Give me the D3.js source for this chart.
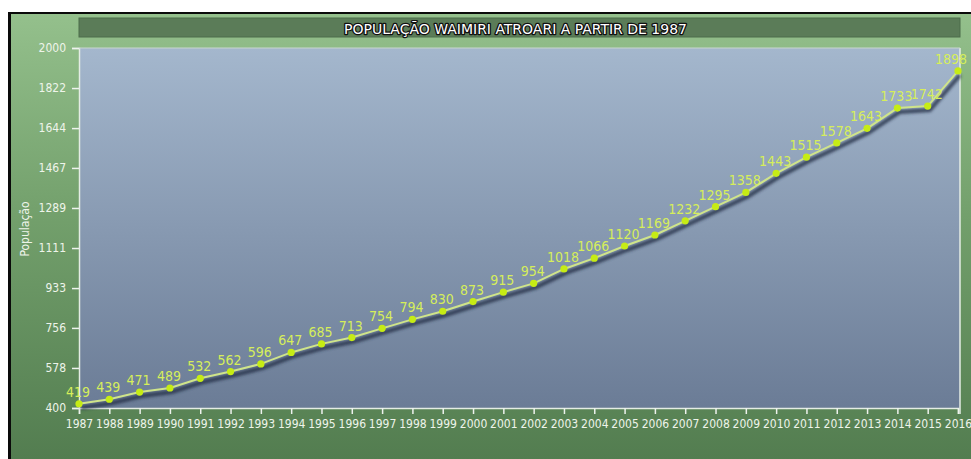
<!DOCTYPE html>
<html>
<head>
<meta charset="utf-8">
<script src="https://cdn.jsdelivr.net/npm/d3@7"></script>
<style>
  html, body { margin: 0; padding: 0; background: #fff; }
  svg { display: block; }
  text { font-family: "DejaVu Sans Condensed", "DejaVu Sans", sans-serif; }
</style>
</head>
<body>
<script>
const years = ["1987","1988","1989","1990","1991","1992","1993","1994","1995","1996",
  "1997","1998","1999","2000","2001","2002","2003","2004","2005","2006",
  "2007","2008","2009","2010","2011","2012","2013","2014","2015","2016"];
const population = [419,439,471,489,532,562,596,647,685,713,754,794,830,873,915,
  954,1018,1066,1120,1169,1232,1295,1358,1443,1515,1578,1643,1733,1742,1898];
const yTicks = [400,578,756,933,1111,1289,1467,1644,1822,2000];
const title = "POPULAÇÃO WAIMIRI ATROARI A PARTIR DE 1987";
const yLabel = "População";

const width = 971, height = 459;
const plot = { left: 79, right: 960, top: 48, bottom: 408 };

const svg = d3.select("body").append("svg")
  .attr("width", width).attr("height", height);

const defs = svg.append("defs");
const bgGrad = defs.append("linearGradient").attr("id", "bg")
  .attr("x1", 0).attr("y1", 0).attr("x2", 0).attr("y2", 1);
bgGrad.append("stop").attr("offset", "0%").attr("stop-color", "#94c08c");
bgGrad.append("stop").attr("offset", "45%").attr("stop-color", "#73a06c");
bgGrad.append("stop").attr("offset", "100%").attr("stop-color", "#537d50");

const plotGrad = defs.append("linearGradient").attr("id", "plotbg")
  .attr("x1", 0).attr("y1", 0).attr("x2", 0).attr("y2", 1);
plotGrad.append("stop").attr("offset", "0%").attr("stop-color", "#a4b7cd");
plotGrad.append("stop").attr("offset", "100%").attr("stop-color", "#6b7c96");

const blur = defs.append("filter").attr("id", "shadow")
  .attr("x", "-5%").attr("y", "-20%").attr("width", "110%").attr("height", "140%");
blur.append("feGaussianBlur").attr("stdDeviation", 1.6);

// frame
svg.append("rect").attr("x", 8).attr("y", 12).attr("width", width - 8).attr("height", height - 12)
  .attr("fill", "#0a0a0a");
svg.append("rect").attr("x", 11).attr("y", 14).attr("width", width - 11).attr("height", height - 14)
  .attr("fill", "url(#bg)");

// title bar
svg.append("rect").attr("x", plot.left).attr("y", 18)
  .attr("width", plot.right - plot.left).attr("height", 19)
  .attr("fill", "#5b7c58").attr("stroke", "#4d6d4b").attr("stroke-width", 1);
svg.append("text")
  .attr("x", (plot.left + plot.right) / 2 - 4).attr("y", 34)
  .attr("text-anchor", "middle")
  .attr("font-size", 14)
  .attr("textLength", 343).attr("lengthAdjust", "spacingAndGlyphs")
  .attr("fill", "#ffffff").attr("stroke", "#111").attr("stroke-width", 2.4)
  .attr("paint-order", "stroke").attr("stroke-linejoin", "round")
  .text(title);

// plot area
svg.append("rect").attr("x", plot.left).attr("y", plot.top)
  .attr("width", plot.right - plot.left).attr("height", plot.bottom - plot.top)
  .attr("fill", "url(#plotbg)");

const x = d3.scalePoint().domain(years).range([plot.left, plot.right - 2]);
const y = d3.scaleLinear().domain([400, 2000]).range([plot.bottom, plot.top]);

// axes
const yAxis = svg.append("g").attr("transform", `translate(${plot.left},0)`)
  .call(d3.axisLeft(y).tickValues(yTicks).tickFormat(d3.format("d")).tickSize(7).tickPadding(6));
const xAxis = svg.append("g").attr("transform", `translate(0,${plot.bottom})`)
  .call(d3.axisBottom(x).tickSize(6).tickPadding(5));
[yAxis, xAxis].forEach(g => {
  g.select(".domain").attr("stroke", "#e4ece4").attr("stroke-width", 1.5);
  g.selectAll(".tick line").attr("stroke", "#eef2ee").attr("stroke-width", 1.5);
  g.selectAll(".tick text").attr("fill", "#eef4ea").attr("font-size", 12)
    .attr("font-family", "'DejaVu Sans Condensed', 'DejaVu Sans', sans-serif");
});
// right and top border of plot
svg.append("line").attr("x1", plot.right).attr("x2", plot.right)
  .attr("y1", plot.top).attr("y2", plot.bottom + 6)
  .attr("stroke", "#e4ece4").attr("stroke-width", 1.5);
svg.append("line").attr("x1", plot.left).attr("x2", plot.right)
  .attr("y1", plot.top).attr("y2", plot.top)
  .attr("stroke", "#c8d6d0").attr("stroke-width", 1);

// y label
svg.append("text")
  .attr("transform", `translate(29,229) rotate(-90)`)
  .attr("text-anchor", "middle")
  .attr("font-size", 12)
  .attr("fill", "#eef4ea")
  .text(yLabel);

const data = years.map((d, i) => ({ year: d, value: population[i] }));
const line = d3.line().x(d => x(d.year)).y(d => y(d.value));

// shadow line
svg.append("path").datum(data)
  .attr("transform", "translate(2,4)")
  .attr("d", line).attr("fill", "none")
  .attr("stroke", "#27314a").attr("stroke-width", 4).attr("opacity", 0.85)
  .attr("filter", "url(#shadow)");

svg.append("path").datum(data)
  .attr("d", line).attr("fill", "none")
  .attr("stroke", "#cfe48a").attr("stroke-width", 2);

svg.selectAll(".pt").data(data).enter().append("circle")
  .attr("class", "pt")
  .attr("cx", d => x(d.year)).attr("cy", d => y(d.value))
  .attr("r", 3.6).attr("fill", "#c6ec14");

svg.selectAll(".lbl").data(data).enter().append("text")
  .attr("class", "lbl")
  .attr("x", d => Math.min(x(d.year) - 1, width - 20))
  .attr("y", d => y(d.value) - 7)
  .attr("text-anchor", "middle")
  .attr("font-size", 14)
  .attr("fill", "#d6ee5a")
  .text(d => d.value);
</script>
</body>
</html>
